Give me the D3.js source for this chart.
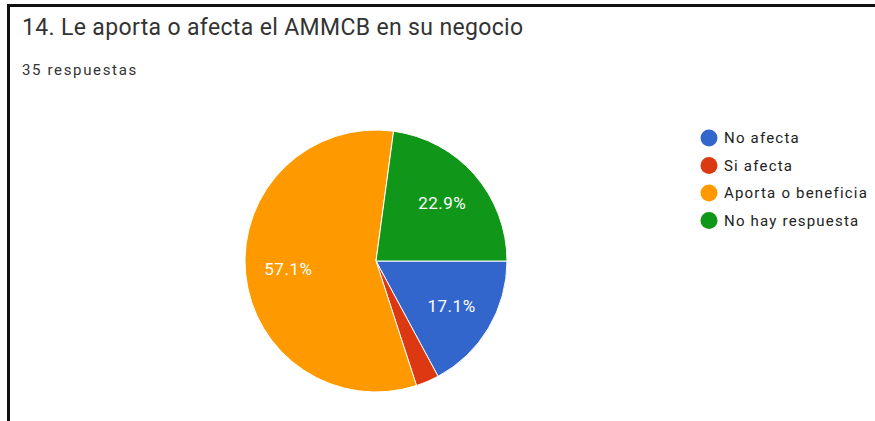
<!DOCTYPE html>
<html>
<head>
<meta charset="utf-8">
<script src="https://cdn.jsdelivr.net/npm/d3@7"></script>
<style>
  body { margin: 0; background: #fff; }
  svg { display: block; font-family: Roboto, Arial, sans-serif; }
</style>
</head>
<body>
<svg id="chart" width="875" height="421"></svg>
<script>
// data (35 answers)
var categories = ["No afecta", "Si afecta", "Aporta o beneficia", "No hay respuesta"];
var counts = [6, 1, 20, 8];
var colors = ["#3366cc", "#dc3912", "#ff9900", "#109618"];

var title = "14. Le aporta o afecta el AMMCB en su negocio";
var subtitle = "35 respuestas";

var svg = d3.select("#chart");

// frame (top and left lines of the screenshot)
svg.append("rect").attr("x", 7).attr("y", 4).attr("width", 868).attr("height", 3).attr("fill", "#111");
svg.append("rect").attr("x", 7).attr("y", 4).attr("width", 3).attr("height", 417).attr("fill", "#111");

svg.append("text")
  .attr("x", 22).attr("y", 35)
  .attr("font-size", 23)
  .attr("letter-spacing", 0.35)
  .attr("fill", "#333")
  .text(title);

svg.append("text")
  .attr("x", 22).attr("y", 75)
  .attr("font-size", 15)
  .attr("letter-spacing", 1.65)
  .attr("fill", "#333")
  .text(subtitle);

var total = d3.sum(counts);
var data = categories.map(function(c, i) { return {name: c, value: counts[i], color: colors[i]}; });

var cx = 376, cy = 261, r = 131;

var pie = d3.pie()
  .value(function(d) { return d.value; })
  .sort(null)
  .startAngle(Math.PI / 2)
  .endAngle(Math.PI / 2 + 2 * Math.PI);

var arc = d3.arc().innerRadius(0).outerRadius(r);
var labelArc = d3.arc().innerRadius(88).outerRadius(88);

var g = svg.append("g").attr("transform", "translate(" + cx + "," + cy + ")");

var slices = g.selectAll("g.slice")
  .data(pie(data))
  .enter()
  .append("g")
  .attr("class", "slice");

slices.append("path")
  .attr("d", arc)
  .attr("fill", function(d) { return d.data.color; })
  .attr("stroke", "#fff")
  .attr("stroke-width", 1);

slices.filter(function(d) { return d.data.value / total > 0.05; })
  .append("text")
  .attr("transform", function(d) { return "translate(" + labelArc.centroid(d) + ")"; })
  .attr("text-anchor", "middle")
  .attr("dy", "0.36em")
  .attr("font-size", 17)
  .attr("letter-spacing", 0.5)
  .attr("fill", "#fff")
  .text(function(d) { return (d.data.value / total * 100).toFixed(1) + "%"; });

// legend
var legend = svg.append("g").attr("transform", "translate(709,138)");
var item = legend.selectAll("g")
  .data(data)
  .enter()
  .append("g")
  .attr("transform", function(d, i) { return "translate(0," + i * 27.5 + ")"; });

item.append("circle")
  .attr("r", 8.5)
  .attr("fill", function(d) { return d.color; });

item.append("text")
  .attr("x", 15)
  .attr("dy", "0.36em")
  .attr("font-size", 15)
  .attr("letter-spacing", 1.2)
  .attr("fill", "#222")
  .text(function(d) { return d.name; });
</script>
</body>
</html>
